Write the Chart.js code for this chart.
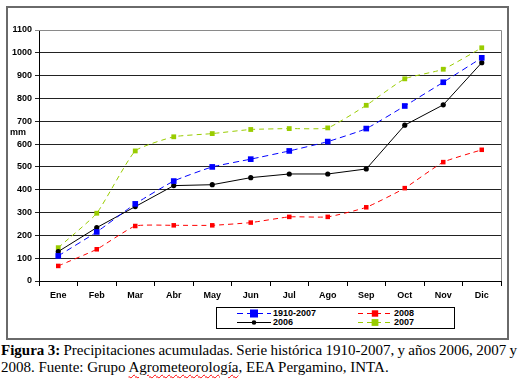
<!DOCTYPE html>
<html><head><meta charset="utf-8">
<script src="https://cdn.jsdelivr.net/npm/chart.js@4/dist/chart.umd.min.js"></script>
<style>
html,body{margin:0;padding:0;background:#fff;width:520px;height:383px;overflow:hidden;}
#frame{position:absolute;left:6px;top:6px;width:503px;height:334px;border:2px solid #6a6a6a;box-sizing:border-box;}
#wrap{position:absolute;left:0;top:0;width:520px;height:340px;}
#legend{position:absolute;left:216px;top:307px;width:239px;height:22px;border:1px solid #000;box-sizing:border-box;background:#fff;font:bold 9px "Liberation Sans",Arial,sans-serif;}
.li{position:absolute;height:9px;line-height:9px;}
.li svg{position:absolute;left:0;top:0;}
.li span{position:absolute;left:36px;top:0;white-space:nowrap;}
.cap{position:absolute;left:1px;font:15px "Liberation Serif","Times New Roman",serif;line-height:17px;color:#000;white-space:nowrap;}
#cap1{top:342px;}
#cap2{top:358.5px;}
.sq{text-decoration:underline wavy red;text-decoration-thickness:1px;text-underline-offset:2px;}
</style></head>
<body>
<div id="frame"></div>
<div id="wrap"><canvas id="c" width="520" height="340"></canvas></div>
<div id="legend"></div>
<div class="cap" id="cap1"><b>Figura 3:</b> Precipitaciones acumuladas. Serie histórica 1910-2007, y años 2006, 2007 y</div>
<div class="cap" id="cap2">2008. Fuente: Grupo <span class="sq">Agrometeorología</span>, EEA Pergamino, INTA.</div>
<script>
const months = ["Ene","Feb","Mar","Abr","May","Jun","Jul","Ago","Sep","Oct","Nov","Dic"];
const hist19102007 = [110,215,338,438,500,534,570,611,668,767,871,978];
const y2008 = [66,139,241,244,244,256,281,281,323,407,521,575];
const y2006 = [129,234,326,418,422,453,469,469,491,683,772,957];
const y2007 = [146,297,570,632,646,664,668,671,770,886,928,1022];
const yTicks = [0,100,200,300,400,500,600,700,800,900,1000,1100];

const series = [
  {label:"1910-2007", data:hist19102007, color:"#0000ff", dash:[6,4], style:"rect", r:4, tension:0.15},
  {label:"2008", data:y2008, color:"#ff0000", dash:[5,4], style:"rect", r:3.2, tension:0.15},
  {label:"2006", data:y2006, color:"#000000", dash:[], style:"circle", r:2.6, tension:0},
  {label:"2007", data:y2007, color:"#99cc00", dash:[5,4], style:"rect", r:3.4, tension:0.15}
];

const FONT = {family:'"Liberation Sans", Arial, sans-serif', size:9, weight:'bold'};

const frameBorder = {
  id:'frameBorder',
  afterDatasetsDraw(chart){
    const {ctx, chartArea:a} = chart;
    ctx.save();
    ctx.strokeStyle = '#8a8a8a';
    ctx.lineWidth = 1;
    ctx.beginPath();
    ctx.moveTo(a.left, a.top+0.5); ctx.lineTo(a.right+0.5, a.top+0.5);
    ctx.lineTo(a.right+0.5, a.bottom);
    ctx.stroke();
    ctx.fillStyle = '#000';
    ctx.font = 'bold 9px "Liberation Sans", Arial, sans-serif';
    ctx.textBaseline = 'middle';
    ctx.fillText('mm', 10, 133);
    ctx.restore();
  }
};

new Chart(document.getElementById('c'), {
  type:'line',
  data:{
    labels:months,
    datasets:series.map(s=>({
      label:s.label, data:s.data, borderColor:s.color, backgroundColor:s.color,
      borderWidth:1, borderDash:s.dash, pointStyle:s.style, pointRadius:s.r,
      pointBorderWidth:0, pointBackgroundColor:s.color, tension:s.tension, fill:false
    }))
  },
  options:{
    responsive:false, animation:false, devicePixelRatio:1,
    layout:{padding:{left:0,right:19,top:30,bottom:0}},
    plugins:{legend:{display:false}, tooltip:{enabled:false}},
    scales:{
      x:{
        offset:true,
        afterFit(s){ s.height = 59; },
        grid:{drawOnChartArea:false, offset:true, tickLength:5, color:'#000'},
        border:{display:true, color:'#000', width:1},
        ticks:{color:'#000', font:FONT, padding:4, maxRotation:0, autoSkip:false}
      },
      y:{
        min:0, max:1100,
        afterFit(s){ s.width = 39; },
        afterBuildTicks(s){ s.ticks = yTicks.map(v=>({value:v})); },
        grid:{color:(c)=> c.tick && c.tick.value===1100 ? '#8a8a8a' : '#222', tickLength:4, lineWidth:1},
        border:{display:true, color:'#000', width:1},
        ticks:{color:'#000', font:FONT, padding:3, callback:(v)=>String(v)}
      }
    }
  },
  plugins:[frameBorder]
});

// fit caption line 1 to the full width (justified look)
(function(){
  const c1 = document.getElementById('cap1');
  const w = c1.getBoundingClientRect().width;
  const spaces = (c1.textContent.match(/ /g)||[]).length;
  const target = 516;
  c1.style.wordSpacing = ((target - w)/spaces) + 'px';
})();

// legend
const leg = document.getElementById('legend');
const order = [0,2,1,3];
order.forEach((si,k)=>{
  const s = series[si];
  const col = k<2 ? 20 : 141;
  const row = k%2===0 ? 1 : 9.5;
  const d = document.createElement('div');
  d.className='li'; d.style.left=col+'px'; d.style.top=row+'px'; d.style.width='100px';
  const dash = s.dash.length ? 'stroke-dasharray="'+s.dash.join(',')+'"' : '';
  const mk = s.style==='circle'
    ? '<circle cx="17" cy="4.5" r="2.3" fill="'+s.color+'"/>'
    : '<rect x="'+(17-s.r)+'" y="'+(4.5-s.r)+'" width="'+(2*s.r)+'" height="'+(2*s.r)+'" fill="'+s.color+'"/>';
  d.innerHTML = '<svg width="34" height="9"><line x1="0" y1="4.5" x2="34" y2="4.5" stroke="'+s.color+'" stroke-width="1" '+dash+'/>'+mk+'</svg><span>'+s.label+'</span>';
  leg.appendChild(d);
});
</script>
</body></html>
